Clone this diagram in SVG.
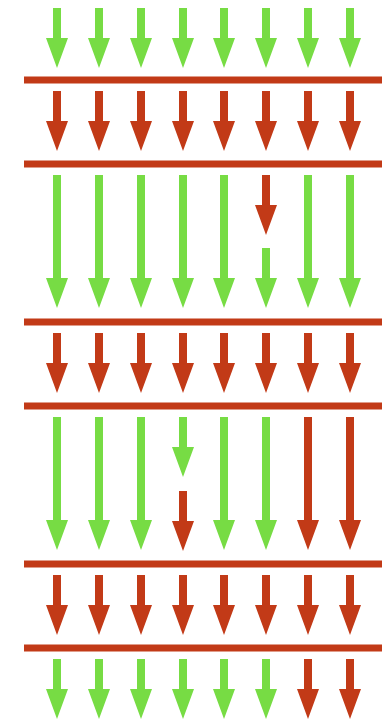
<svg xmlns="http://www.w3.org/2000/svg" xmlns:xlink="http://www.w3.org/1999/xlink" width="387" height="722" viewBox="0 0 387 722">
  <style>
    .g { fill: #77dc44; }
    .r { fill: #c23a17; }
    .bar { fill: #c23a17; }
  </style>
  <defs>
    <!-- arrow shapes: centred on x=0, starting at y=0 -->
    <path id="short" d="M-4 0 H4 V30 H11 L0 60 L-11 30 H-4 Z"/>
    <path id="long" d="M-4 0 H4 V103 H11 L0 133 L-11 103 H-4 Z"/>
  </defs>
  <rect width="387" height="722" fill="#ffffff"/>

  <!-- horizontal bars -->
  <g id="bars">
    <rect class="bar" x="24" y="76.5" width="358" height="7"/>
    <rect class="bar" x="24" y="160.5" width="358" height="7"/>
    <rect class="bar" x="24" y="318.5" width="358" height="7"/>
    <rect class="bar" x="24" y="402.5" width="358" height="7"/>
    <rect class="bar" x="24" y="560.5" width="358" height="7"/>
    <rect class="bar" x="24" y="644.5" width="358" height="7"/>
  </g>

  <g id="connectors">
    <!-- row 1 -->
    <g class="g">
      <use href="#short" x="57" y="8"/><use href="#short" x="99" y="8"/>
      <use href="#short" x="141" y="8"/><use href="#short" x="183" y="8"/>
      <use href="#short" x="224" y="8"/><use href="#short" x="266" y="8"/>
      <use href="#short" x="308" y="8"/><use href="#short" x="350" y="8"/>
    </g>
    <!-- row 2 -->
    <g class="r">
      <use href="#short" x="57" y="91"/><use href="#short" x="99" y="91"/>
      <use href="#short" x="141" y="91"/><use href="#short" x="183" y="91"/>
      <use href="#short" x="224" y="91"/><use href="#short" x="266" y="91"/>
      <use href="#short" x="308" y="91"/><use href="#short" x="350" y="91"/>
    </g>
    <!-- row 3 -->
    <g class="g">
      <use href="#long" x="57" y="175"/><use href="#long" x="99" y="175"/>
      <use href="#long" x="141" y="175"/><use href="#long" x="183" y="175"/>
      <use href="#long" x="224" y="175"/>
      <use href="#short" x="266" y="248"/>
      <use href="#long" x="308" y="175"/><use href="#long" x="350" y="175"/>
    </g>
    <use class="r" href="#short" x="266" y="175"/>
    <!-- row 4 -->
    <g class="r">
      <use href="#short" x="57" y="333"/><use href="#short" x="99" y="333"/>
      <use href="#short" x="141" y="333"/><use href="#short" x="183" y="333"/>
      <use href="#short" x="224" y="333"/><use href="#short" x="266" y="333"/>
      <use href="#short" x="308" y="333"/><use href="#short" x="350" y="333"/>
    </g>
    <!-- row 5 -->
    <g class="g">
      <use href="#long" x="57" y="417"/><use href="#long" x="99" y="417"/>
      <use href="#long" x="141" y="417"/>
      <use href="#short" x="183" y="417"/>
      <use href="#long" x="224" y="417"/><use href="#long" x="266" y="417"/>
    </g>
    <g class="r">
      <use href="#short" x="183" y="491"/>
      <use href="#long" x="308" y="417"/><use href="#long" x="350" y="417"/>
    </g>
    <!-- row 6 -->
    <g class="r">
      <use href="#short" x="57" y="575"/><use href="#short" x="99" y="575"/>
      <use href="#short" x="141" y="575"/><use href="#short" x="183" y="575"/>
      <use href="#short" x="224" y="575"/><use href="#short" x="266" y="575"/>
      <use href="#short" x="308" y="575"/><use href="#short" x="350" y="575"/>
    </g>
    <!-- row 7 -->
    <g class="g">
      <use href="#short" x="57" y="659"/><use href="#short" x="99" y="659"/>
      <use href="#short" x="141" y="659"/><use href="#short" x="183" y="659"/>
      <use href="#short" x="224" y="659"/><use href="#short" x="266" y="659"/>
    </g>
    <g class="r">
      <use href="#short" x="308" y="659"/><use href="#short" x="350" y="659"/>
    </g>
  </g>
</svg>
